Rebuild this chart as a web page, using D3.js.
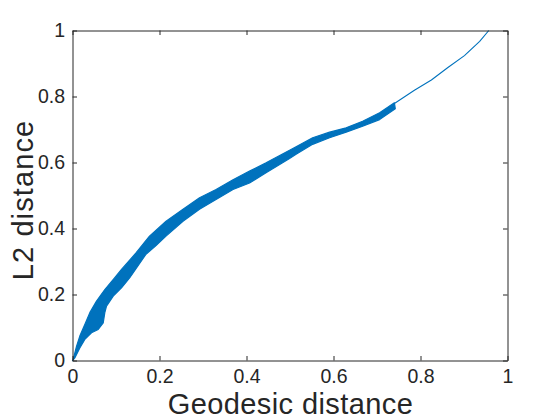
<!DOCTYPE html>
<html>
<head>
<meta charset="utf-8">
<script src="https://cdn.jsdelivr.net/npm/d3@7"></script>
<style>
  html, body { margin: 0; padding: 0; background: #fff; }
  svg { display: block; }
  .axis text { font-family: "Liberation Sans", Arial, Helvetica, sans-serif; font-size: 19.5px; fill: #262626; }
  .axis path, .axis line { stroke: #262626; stroke-width: 1; }
  .label { font-family: "Liberation Sans", Arial, Helvetica, sans-serif; font-size: 29px; fill: #262626; }
</style>
</head>
<body>
<script>
// ---- data ----
const upperX = [0, 0.0016, 0.0092, 0.0168, 0.0283, 0.0398, 0.0552, 0.0743, 0.0972, 0.1126, 0.146, 0.177, 0.215, 0.254, 0.292, 0.330, 0.369, 0.407, 0.445, 0.499, 0.514, 0.552, 0.591, 0.629, 0.667, 0.706, 0.740];
const upperY = [0, 0.003, 0.043, 0.074, 0.109, 0.145, 0.180, 0.215, 0.251, 0.276, 0.326, 0.377, 0.422, 0.458, 0.493, 0.518, 0.548, 0.574, 0.599, 0.637, 0.648, 0.675, 0.692, 0.705, 0.725, 0.751, 0.781];
const lowerX = [0, 0.0053, 0.0168, 0.0283, 0.0437, 0.0591, 0.0706, 0.0743, 0.0782, 0.0936, 0.1126, 0.1317, 0.169, 0.192, 0.215, 0.254, 0.292, 0.330, 0.369, 0.407, 0.445, 0.499, 0.514, 0.552, 0.591, 0.629, 0.667, 0.706, 0.742];
const lowerY = [0, 0.008, 0.038, 0.064, 0.084, 0.094, 0.114, 0.145, 0.165, 0.195, 0.220, 0.251, 0.322, 0.348, 0.377, 0.422, 0.458, 0.488, 0.518, 0.538, 0.569, 0.612, 0.625, 0.655, 0.675, 0.692, 0.710, 0.730, 0.763];
const lineX = [0.740, 0.786, 0.825, 0.863, 0.901, 0.936, 0.957];
const lineY = [0.779, 0.819, 0.850, 0.888, 0.924, 0.967, 1.0];
const xTicks = [0, 0.2, 0.4, 0.6, 0.8, 1];
const yTicks = [0, 0.2, 0.4, 0.6, 0.8, 1];
const xTickLabels = ["0", "0.2", "0.4", "0.6", "0.8", "1"];
const yTickLabels = ["0", "0.2", "0.4", "0.6", "0.8", "1"];
const xLabel = "Geodesic distance";
const yLabel = "L2 distance";

(function () {
  const W = 560, H = 420;
  const pL = 72.5, pR = 507.5, pT = 30.5, pB = 360.5;
  const color = "#0072BD";

  const svg = d3.select("body").append("svg").attr("width", W).attr("height", H);

  const x = d3.scaleLinear().domain([0, 1]).range([pL, pR]);
  const y = d3.scaleLinear().domain([0, 1]).range([pB, pT]);

  const upperPts = upperX.map((v, i) => [v, upperY[i]]);
  const lowerPts = lowerX.map((v, i) => [v, lowerY[i]]).reverse();
  const polyPts = upperPts.concat(lowerPts);
  const lineGen = d3.line().x(d => x(d[0])).y(d => y(d[1]));

  svg.append("path")
    .attr("d", lineGen(polyPts) + "Z")
    .attr("fill", color)
    .attr("stroke", color)
    .attr("stroke-width", 1.2)
    .attr("stroke-linejoin", "round");

  const tailPts = lineX.map((v, i) => [v, lineY[i]]);
  svg.append("path")
    .attr("d", lineGen(tailPts.map(p => p)))
    .attr("fill", "none")
    .attr("stroke", color)
    .attr("stroke-width", 1.1)
    .attr("stroke-linejoin", "round");

  const tk = 4.5;
  svg.append("g").attr("class", "axis").attr("transform", `translate(0,${pB})`)
    .call(d3.axisBottom(x).tickValues(xTicks).tickFormat((d, i) => xTickLabels[i])
      .tickSizeInner(-tk).tickSizeOuter(0).tickPadding(8.6));
  svg.append("g").attr("class", "axis").attr("transform", `translate(0,${pT})`)
    .call(d3.axisTop(x).tickValues(xTicks).tickFormat("")
      .tickSizeInner(-tk).tickSizeOuter(0));
  svg.append("g").attr("class", "axis").attr("transform", `translate(${pL},0)`)
    .call(d3.axisLeft(y).tickValues(yTicks).tickFormat((d, i) => yTickLabels[i])
      .tickSizeInner(-tk).tickSizeOuter(0).tickPadding(7.5));
  svg.append("g").attr("class", "axis").attr("transform", `translate(${pR},0)`)
    .call(d3.axisRight(y).tickValues(yTicks).tickFormat("")
      .tickSizeInner(-tk).tickSizeOuter(0));

  svg.append("text").attr("class", "label")
    .attr("x", (pL + pR) / 2 + 0.5).attr("y", 413.5)
    .attr("text-anchor", "middle")
    .style("letter-spacing", "0.4px")
    .text(xLabel);
  svg.append("text").attr("class", "label")
    .attr("transform", `translate(33,200) rotate(-90)`)
    .attr("text-anchor", "middle")
    .style("letter-spacing", "1.1px")
    .text(yLabel);
})();
</script>
</body>
</html>
